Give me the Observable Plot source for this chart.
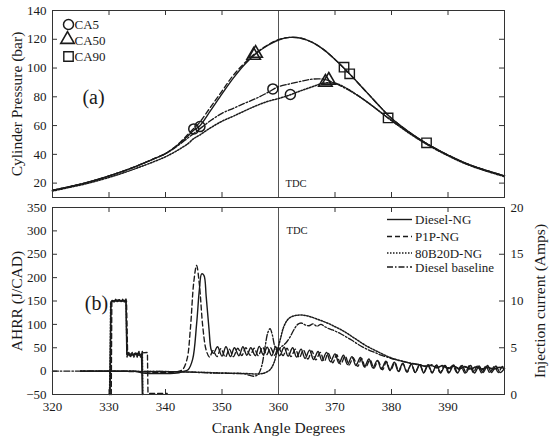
<!DOCTYPE html>
<html><head><meta charset="utf-8">
<script src="https://cdn.jsdelivr.net/npm/d3@7"></script>
<script src="https://cdn.jsdelivr.net/npm/@observablehq/plot@0.6"></script>
<style>
body{margin:0;background:#fff;}
#chart{width:550px;height:439px;background:#fff;}
#chart svg{display:block;}
</style></head><body><div id="chart"></div>
<script>
// ---------- tick labels ----------
const xTicks = [320, 330, 340, 350, 360, 370, 380, 390];
const xTickMarks = [330, 340, 350, 360, 370, 380, 390];
const pTicks = [20, 40, 60, 80, 100, 120, 140];
const hTicks = [-50, 0, 50, 100, 150, 200, 250, 300, 350];
const ampTicks = [0, 5, 10, 15, 20];
const tdc = 360;
const seriesNames = ["Diesel-NG", "P1P-NG", "80B20D-NG", "Diesel baseline"];
const markerNames = ["CA5", "CA50", "CA90"];

// ---------- (a) cylinder pressure (bar) ----------
const cadP = [320,323,326,329,332,335,338,340,342,344,345,346,348,350,352,354,356,358,360,362,364,366,368,370,372,374,376,378,380,383,386,390,394,400];
const pDieselNG = [15,17.5,20.3,23.7,27.6,32,37,40.5,46,53,56.8,59.5,70.5,82,93,102.5,110,115.5,119.5,121.3,120.7,117.8,112.8,106,98.3,90,81.5,73,65,55.8,48,39.5,32.5,25];
const pP1P      = [15,17.5,20.3,23.7,27.6,32,37,40.5,46.3,54,58,62,73,84,95,103.5,110.5,115.8,119.7,121.3,120.7,117.8,112.8,106,98.3,90,81.5,73,65,55.8,48,39.5,32.5,25];
const p80B20D   = [14.5,17,19.6,22.8,26.4,30.5,35,38.3,42.5,47.5,51,53.3,58.5,63,66.5,70.2,73.7,76.7,78.8,81.3,84.3,87,89.5,89.5,86,81,75.5,69.5,63.5,55,47.5,39,32,24.5];
const pBaseline = [15,17.5,20.3,23.7,27.6,32,37,40.5,45.5,51.5,54.5,57.5,63.5,68.5,72,75.5,78.8,82.8,87,89,90.8,92.3,92.2,89.5,85.5,81,75.5,69.5,63.5,55.5,48,39.5,32.5,25];

// combustion markers
const ca5Cad  = [345.0, 346.1, 359.0, 362.1];
const ca5P    = [57.7, 59.3, 85.5, 81.6];
const ca50Cad = [355.6, 355.95, 368.3, 368.9];
const ca50P   = [108.8, 110.2, 90.1, 91.5];
const ca90Cad = [371.6, 372.6, 379.4, 386.2];
const ca90P   = [100.6, 96, 65.3, 48];

// ---------- (b) AHRR (J/CAD) ----------
const hDieselNGCad = [325,330,335,336,342,343,344,344.8,345.5,346.0,346.4,346.8,347.2,347.7,348.1,348.5,
 349.2,350.0,350.7,351.5,352.2,353.0,353.7,354.4,355.1,355.9,356.6,357.3,358.0,358.8,359.5,360.2,361.0,361.7,362.5,363.2,364.0,364.7,365.5,366.2,367.0,367.7,368.5,369.2,370.0,370.7,371.5,372.2,373.0,373.7,374.5,375.2,376.0,376.7,377.5,378.2,379.0,379.7,380.5,381.2,382.0,382.7,383.5,384.2,385.0,385.7,386.5,387.2,388.0,388.7,389.5,390.2,391.0,391.7,392.5,393.2,394.0,394.7,395.5,396.2,397.0,397.7,398.5,399.2,400];
const hDieselNG = [0,0,-1,-4,-4,-1,3,25,100,175,208,205,160,90,45,38,
 52,32,52,31,50,33,52,34,50,33,53,35,51,33,52,33,51,32,50,30,47,27,45,25,42,22,40,20,37,17,34,14,31,12,29,9,26,7,23,4,21,2,19,0,17,-2,15,-3,14,-4,13,-3,13,-4,12,-3,13,-4,12,-3,12,-4,11,-3,12,-3,11,-3,6];

const hP1PCad = [325,335,340,342,343,343.8,344.4,345.0,345.5,346.0,346.6,347.2,
 347.8,348.4,349.1,349.8,350.6,351.3,352.0,352.8,353.5,354.2,355.0,355.7,356.4,357.2,357.9,358.6,359.3,360.0,360.8,361.5,362.2,363.0,363.7,364.4,365.2,365.9,366.6,367.4,368.1,368.8,369.6,370.3,371.0,371.8,372.5,373.2,374.0,374.7,375.4,376.2,376.9,377.6,378.4,379.1,379.8,380.6,381.3,382.0,382.8,383.5,384.2,385.0,385.7,386.4,387.2,387.9,388.6,389.4,390.1,390.8,391.6,392.3,393.0,393.8,394.5,395.2,396.0,396.7,397.4,398.2,398.9,399.6,400];
const hP1P = [0,-1,-3,-1,3,25,90,190,226,185,95,45,
 30,44,31,48,30,47,31,49,33,50,34,49,33,51,35,50,34,50,33,49,31,47,29,45,26,43,24,40,21,38,18,35,15,32,13,29,10,27,8,24,6,22,3,20,1,18,-1,16,-2,15,-3,14,-3,13,-4,12,-3,12,-4,12,-3,11,-4,12,-3,11,-4,11,-3,10,-3,10,6];

const h80B20DCad = [325,340,345,350,354,356.5,357.5,358.5,359.2,359.8,360.4,360.9,361.5,362.1,363,364,365,366,367,368,369,370,371,372,373,374,375,376,377,378,379,380,381,382,383,384,385,386,387,388,389,390,391,392,393,394,395,396,397,398,399,400];
const h80B20D = [0,-1,-2,-4,-5,-6,-4,3,18,44,72,94,108,115,119,120,118.5,115,110.5,106,101,95,89,82,74,66,58,51,45,39,33,28,24,21,18,15,13,11,12,8,11,7,10,6,9,5,9,5,8,5,8,6];

const hBaselineCad = [320,330,340,344,348,352,354,355.6,356.4,357.0,357.6,358.1,358.5,358.9,359.3,359.8,360.5,361.3,362,362.7,363.4,364,364.7,365.4,366.1,366.8,367.5,368.2,368.9,369.6,370.3,371,372,373,374,375,376,377,378,379,380,381,382,383,384,385,386,387,388,389,390,391,392,393,394,395,396,397,398,399,400];
const hBaseline = [0,0,-1,-2,-4,-5,-6,-11,-7,10,50,82,91,78,55,44,52,60,72,88,100,103,99,97,101,96,100,95,91,88,84,80,73,66,58,51,45,40,35,31,27,24,21,18,16,14,10,14,7,12,5,11,4,10,4,9,3,9,3,8,5];

// ---------- injection current (Amps) ----------
const iDieselNGCad = [330.2,330.35,330.8,331.5,332.2,333.0,333.15,333.8,334.6,335.4,335.75,335.9];
const iDieselNG    = [0,9.9,10.0,10.1,10.0,10.1,4.3,4.2,4.3,4.2,4.3,0];
const i80B20DCad = [330.1,330.3,330.6,330.9,331.2,331.5,331.8,332.1,332.4,332.7,333.0,333.2,333.5,333.8,334.1,334.4,334.7,335.0,335.3,335.6,335.9,336.0];
const i80B20D    = [0,9.8,10.1,9.9,10.2,9.9,10.2,9.9,10.2,9.9,10.2,4.0,4.5,4.0,4.5,4.0,4.5,4.0,4.6,4.0,4.6,0];
const iP1PCad = [330.4,330.5,333.1,333.3,336.8,336.9,340.3];
const iP1P    = [0,10,10,4.3,4.5,0.12,0.12];

// ---------- layout / styles ----------
const W = 550, ML = 52, MR = 46, PH = 187, PW = W - ML - MR, TL = 5;
const ink = "#1a1a1a";
const serif = '"Liberation Serif", "DejaVu Serif", serif';
const toAHRR = a => a * 20 - 50; // right (Amps) axis onto left (J/CAD) axis
const dashes = {"Diesel-NG": null, "P1P-NG": "5,3", "80B20D-NG": "1.5,1.5", "Diesel baseline": "6,2,1.5,2"};
const lw = {"Diesel-NG": 1.4, "P1P-NG": 1.35, "80B20D-NG": 1.5, "Diesel baseline": 1.35};

function line(xs, ys, name, curve = "catmull-rom") {
  return Plot.line({length: xs.length}, {x: xs, y: ys, stroke: ink, strokeWidth: lw[name],
    strokeDasharray: dashes[name], curve});
}
function inTicks(xt, yt, yRight) {
  return [
    Plot.tickX(xt, {x: d => d, insetTop: PH - TL, stroke: "#333"}),
    Plot.tickX(xt, {x: d => d, insetBottom: PH - TL, stroke: "#333"}),
    Plot.tickY(yt, {y: d => d, insetRight: PW - TL, stroke: "#333"}),
    Plot.tickY(yRight, {y: d => d, insetLeft: PW - TL, stroke: "#333"})
  ];
}
const style = {fontFamily: serif, fontSize: "13px", color: ink, background: "#fff", overflow: "visible"};

// ---------- panel (a) ----------
const svgA = Plot.plot({
  width: W, height: 202, marginLeft: ML, marginRight: MR, marginTop: 10, marginBottom: 5,
  x: {domain: [320, 400], axis: null},
  y: {domain: [10, 140]},
  style,
  marks: [
    Plot.axisY(pTicks, {tickSize: 0, tickPadding: 6, label: null, fontSize: 13}),
    ...inTicks(xTickMarks, pTicks, pTicks),
    Plot.ruleX([tdc], {stroke: "#555", strokeWidth: 1}),
    line(cadP, pBaseline, "Diesel baseline"),
    line(cadP, p80B20D, "80B20D-NG"),
    line(cadP, pP1P, "P1P-NG"),
    line(cadP, pDieselNG, "Diesel-NG"),
    Plot.dot({length: ca5Cad.length}, {x: ca5Cad, y: ca5P, symbol: "circle", r: 5, stroke: ink, strokeWidth: 1.5, fill: "none"}),
    Plot.dot({length: ca50Cad.length}, {x: ca50Cad, y: ca50P, symbol: "triangle", r: 5, stroke: ink, strokeWidth: 1.6, fill: "none"}),
    Plot.dot({length: ca90Cad.length}, {x: ca90Cad, y: ca90P, symbol: "square", r: 5.3, stroke: ink, strokeWidth: 1.4, fill: "none"}),
    // marker legend
    Plot.dot([markerNames[0]], {frameAnchor: "top-left", dx: 16, dy: 14, symbol: "circle", r: 5, stroke: ink, strokeWidth: 1.5, fill: "none"}),
    Plot.dot([markerNames[1]], {frameAnchor: "top-left", dx: 15, dy: 29, symbol: "triangle", r: 5, stroke: ink, strokeWidth: 1.6, fill: "none"}),
    Plot.dot([markerNames[2]], {frameAnchor: "top-left", dx: 16, dy: 46, symbol: "square", r: 5.3, stroke: ink, strokeWidth: 1.4, fill: "none"}),
    Plot.text([markerNames[0]], {text: d => d, frameAnchor: "top-left", dx: 22, dy: 14, textAnchor: "start", lineAnchor: "middle", fontSize: 13}),
    Plot.text([markerNames[1]], {text: d => d, frameAnchor: "top-left", dx: 22, dy: 30, textAnchor: "start", lineAnchor: "middle", fontSize: 13}),
    Plot.text([markerNames[2]], {text: d => d, frameAnchor: "top-left", dx: 22, dy: 46, textAnchor: "start", lineAnchor: "middle", fontSize: 13}),
    Plot.text(["(a)"], {text: d => d, frameAnchor: "top-left", dx: 41, dy: 87, textAnchor: "middle", lineAnchor: "middle", fontSize: 20}),
    Plot.text(["TDC"], {text: d => d, x: tdc, frameAnchor: "bottom", dx: 7, dy: -14, textAnchor: "start", lineAnchor: "middle", fontSize: 10.5}),
    Plot.text(["Cylinder Pressure (bar)"], {text: d => d, frameAnchor: "left", rotate: -90, dx: -35, textAnchor: "middle", lineAnchor: "middle", fontSize: 15.5}),
    Plot.frame({stroke: "#333", strokeWidth: 1})
  ]
});

// ---------- panel (b) ----------
const svgB = Plot.plot({
  width: W, height: 237, marginLeft: ML, marginRight: MR, marginTop: 5, marginBottom: 45,
  x: {domain: [320, 400]},
  y: {domain: [-50, 350]},
  style,
  marks: [
    Plot.axisX(xTicks, {tickSize: 0, tickPadding: 7, label: null, fontSize: 13}),
    Plot.axisY(hTicks, {tickSize: 0, tickPadding: 6, label: null, fontSize: 13,
      tickFormat: d => d < 0 ? "\u2212" + Math.abs(d) : String(d)}),
    Plot.axisY(ampTicks.map(toAHRR), {anchor: "right", tickSize: 0, tickPadding: 6, label: null, fontSize: 13,
      tickFormat: d => String((d + 50) / 20)}),
    ...inTicks(xTickMarks, hTicks, ampTicks.map(toAHRR)),
    Plot.ruleX([tdc], {stroke: "#555", strokeWidth: 1}),
    // injection current
    line(iDieselNGCad, iDieselNG.map(toAHRR), "Diesel-NG", "linear"),
    line(iP1PCad, iP1P.map(toAHRR), "P1P-NG", "linear"),
    line(i80B20DCad, i80B20D.map(toAHRR), "80B20D-NG", "linear"),
    // AHRR
    line(hBaselineCad, hBaseline, "Diesel baseline"),
    line(h80B20DCad, h80B20D, "80B20D-NG"),
    line(hP1PCad, hP1P, "P1P-NG"),
    line(hDieselNGCad, hDieselNG, "Diesel-NG"),
    Plot.text(["(b)"], {text: d => d, frameAnchor: "top-left", dx: 44, dy: 96, textAnchor: "middle", lineAnchor: "middle", fontSize: 20}),
    Plot.text(["TDC"], {text: d => d, x: tdc, frameAnchor: "top", dx: 8, dy: 23, textAnchor: "start", lineAnchor: "middle", fontSize: 10.5}),
    Plot.text(["AHRR (J/CAD)"], {text: d => d, frameAnchor: "left", rotate: -90, dx: -35, textAnchor: "middle", lineAnchor: "middle", fontSize: 15.5}),
    Plot.text(["Injection current (Amps)"], {text: d => d, frameAnchor: "right", rotate: -90, dx: 36, textAnchor: "middle", lineAnchor: "middle", fontSize: 15.5}),
    Plot.text(["Crank Angle Degrees"], {text: d => d, frameAnchor: "bottom", dy: 34, textAnchor: "middle", lineAnchor: "middle", fontSize: 15.5}),
    Plot.frame({stroke: "#333", strokeWidth: 1})
  ]
});

// series legend (panel b, top right)
const legRowsY = [17.5, 34.5, 51, 65];
const legG = d3.select(svgB).append("g").attr("font-family", serif).attr("font-size", 13)
  .attr("fill", ink).attr("text-anchor", "start");
seriesNames.forEach((name, i) => {
  legG.append("line").attr("x1", 387).attr("x2", 412).attr("y1", legRowsY[i]).attr("y2", legRowsY[i])
    .attr("stroke", ink).attr("stroke-width", lw[name]).attr("stroke-dasharray", dashes[name] || null);
  legG.append("text").attr("x", 415).attr("y", legRowsY[i]).attr("dy", "0.35em")
    .attr("text-anchor", "start").text(name);
});

const root = document.getElementById("chart");
root.appendChild(svgA);
root.appendChild(svgB);
</script></body></html>
